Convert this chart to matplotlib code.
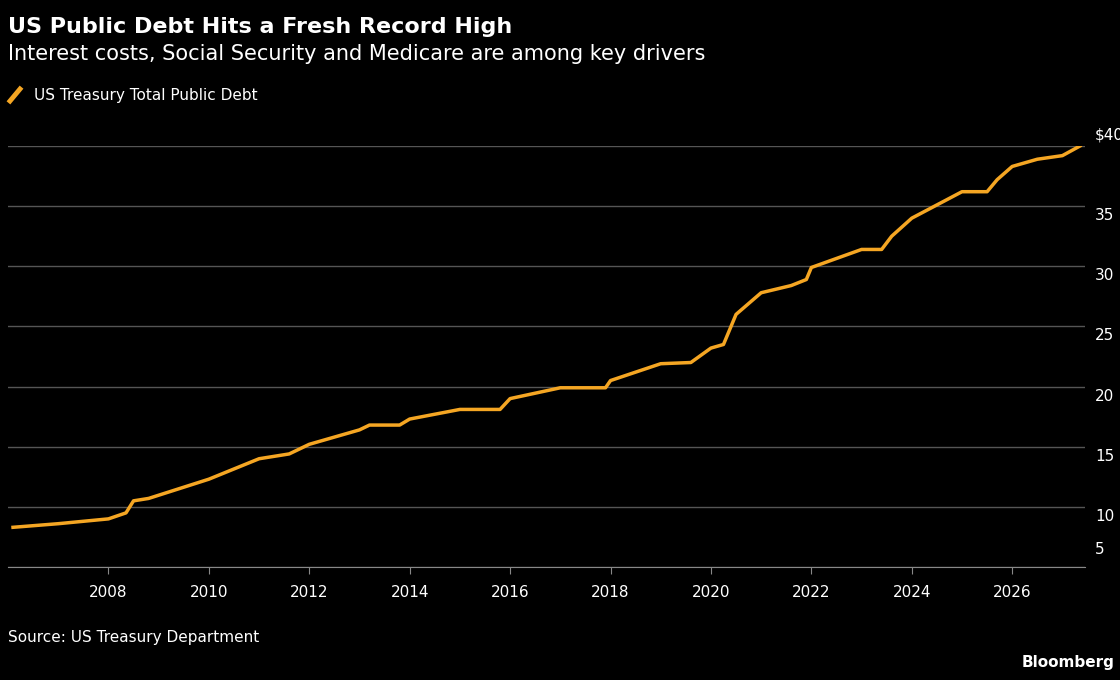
import matplotlib.pyplot as plt
from matplotlib.lines import Line2D
from matplotlib.transforms import offset_copy

years = [2006.1, 2007.0, 2008.0, 2008.35, 2008.5, 2008.8, 2010.0, 2011.0, 2011.6, 2012.0,
         2013.0, 2013.2, 2013.8, 2014.0, 2015.0, 2015.8, 2016.0, 2017.0, 2017.2, 2017.9,
         2018.0, 2019.0, 2019.6, 2020.0, 2020.25, 2020.5, 2021.0, 2021.6, 2021.9, 2022.0,
         2023.0, 2023.4, 2023.6, 2024.0, 2025.0, 2025.5, 2025.7, 2026.0, 2026.5, 2027.0, 2027.35]
debt = [8.3, 8.6, 9.0, 9.5, 10.5, 10.7, 12.3, 14.0, 14.4, 15.2,
        16.4, 16.8, 16.8, 17.3, 18.1, 18.1, 19.0, 19.9, 19.9, 19.9,
        20.5, 21.9, 22.0, 23.2, 23.5, 26.0, 27.8, 28.4, 28.9, 29.9,
        31.4, 31.4, 32.5, 34.0, 36.2, 36.2, 37.2, 38.3, 38.9, 39.2, 40.0]
xticks = list(range(2008, 2027, 2))
yticks = [5, 10, 15, 20, 25, 30, 35, 40]
ylabels = ["5", "10", "15", "20", "25", "30", "35", "$40T"]

fig = plt.figure(figsize=(11.2, 6.8), dpi=100, facecolor="black")
ax = fig.add_axes([8 / 1120, 1 - 567 / 680, 1077 / 1120, 421 / 680], facecolor="black")
ax.plot(years, debt, color="#f5a623", lw=2.5)
ax.set_xlim(2006.0, 2027.45)
ax.set_ylim(5, 40)
ax.set_xticks(xticks)
ax.set_yticks(yticks)
ax.set_yticklabels([])
ax.grid(axis="y", color="#555555", lw=1)
for s in ["top", "left", "right"]:
    ax.spines[s].set_visible(False)
ax.spines["bottom"].set_color("#888888")
ax.tick_params(axis="y", length=0)
ax.tick_params(axis="x", colors="white", labelsize=11, length=5, color="#888888", pad=8)

trans = ax.get_yaxis_transform()
for v, lab in zip(yticks, ylabels):
    if v == 40:
        t = offset_copy(trans, fig=fig, x=10, y=4, units="dots")
        ax.text(1, v, lab, transform=t, color="white", fontsize=11, va="bottom", ha="left")
    elif v == 5:
        t = offset_copy(trans, fig=fig, x=10, y=10, units="dots")
        ax.text(1, v, lab, transform=t, color="white", fontsize=11, va="bottom", ha="left")
    else:
        t = offset_copy(trans, fig=fig, x=10, y=-2, units="dots")
        ax.text(1, v, lab, transform=t, color="white", fontsize=11, va="top", ha="left")

fig.text(0.007, 0.975, "US Public Debt Hits a Fresh Record High", color="white",
         fontsize=16, fontweight="bold", va="top")
fig.text(0.007, 0.935, "Interest costs, Social Security and Medicare are among key drivers",
         color="white", fontsize=15, va="top")
fig.add_artist(Line2D([10 / 1120, 20 / 1120], [1 - 101 / 680, 1 - 89 / 680],
                      color="#f5a623", lw=3.5, transform=fig.transFigure))
fig.text(0.03, 0.86, "US Treasury Total Public Debt", color="white", fontsize=11, va="center")
fig.text(0.007, 0.063, "Source: US Treasury Department", color="white", fontsize=11, va="center")
fig.text(0.995, 0.025, "Bloomberg", color="white", fontsize=11, fontweight="bold",
         ha="right", va="center")

fig.savefig("out.png", facecolor="black")
